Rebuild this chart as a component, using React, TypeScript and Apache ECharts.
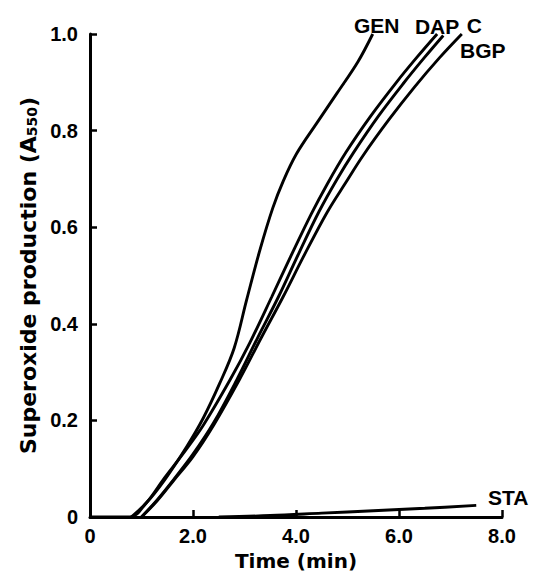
import React, { useEffect, useRef } from "react";
import * as echarts from "echarts";

const seriesNames = ["GEN", "DAP", "C", "BGP", "STA"];

const gen: [number, number][] = [
  [0, 0], [0.78, 0], [1.1, 0.03], [1.45, 0.077], [1.88, 0.146], [2.2, 0.205], [2.52, 0.277],
  [2.8, 0.35], [3.04, 0.449], [3.3, 0.553], [3.55, 0.64], [3.75, 0.695], [4.01, 0.752],
  [4.4, 0.815], [4.8, 0.878], [5.2, 0.942], [5.49, 1.0],
];
const dap: [number, number][] = [
  [0.8, 0], [1.1, 0.03], [1.42, 0.077], [1.8, 0.13], [2.2, 0.19], [2.72, 0.284], [3.1, 0.36],
  [3.53, 0.456], [3.9, 0.54], [4.3, 0.628], [4.6, 0.688], [4.97, 0.755], [5.45, 0.83],
  [5.95, 0.9], [6.35, 0.952], [6.74, 1.0],
];
const cc: [number, number][] = [
  [1.0, 0], [1.3, 0.035], [1.62, 0.077], [2.0, 0.13], [2.4, 0.195], [2.85, 0.284], [3.25, 0.37],
  [3.66, 0.456], [4.05, 0.545], [4.45, 0.633], [4.8, 0.7], [5.12, 0.755], [5.6, 0.83],
  [6.08, 0.897], [6.5, 0.952], [6.86, 0.997],
];
const bgp: [number, number][] = [
  [1.0, 0], [1.3, 0.033], [1.62, 0.075], [2.0, 0.125], [2.4, 0.19], [2.9, 0.284], [3.32, 0.37],
  [3.75, 0.456], [4.15, 0.54], [4.6, 0.63], [4.97, 0.693], [5.3, 0.748], [5.8, 0.822],
  [6.3, 0.89], [6.78, 0.95], [7.22, 1.0],
];
const sta: [number, number][] = [
  [2.5, 0], [3.5, 0.003], [4.5, 0.008], [5.5, 0.013], [6.5, 0.018], [7.5, 0.024],
];

const seriesData = [gen, dap, cc, bgp, sta];
// label offsets (px) from each series' last point
const labelOffsets: [number, number][] = [
  [4, -9], [0, -8], [31, -10], [21, 16], [32, -8],
];

const xMin = 0, xMax = 8, xStep = 2;
const yMin = 0, yMax = 1, yStep = 0.2;

const BOLD = "'Liberation Sans', Arial, sans-serif";
const WIDE = "'DejaVu Sans', sans-serif";

export default function App() {
  const ref = useRef<HTMLDivElement>(null);
  useEffect(() => {
    if (!ref.current) return;
    const chart = echarts.init(ref.current, null, { renderer: "svg" });
    const axisLine = { show: true, lineStyle: { color: "#000", width: 3 } };
    const axisTick = { show: true, inside: true, length: 7, lineStyle: { color: "#000", width: 2.5 } };
    const fmt = (v: number) => (v === 0 ? "0" : v.toFixed(1));
    chart.setOption({
      animation: false,
      backgroundColor: "#fff",
      grid: { left: 90, right: 36, top: 34, bottom: 61, containLabel: false },
      xAxis: {
        type: "value", min: xMin, max: xMax, interval: xStep,
        axisLine, axisTick, splitLine: { show: false },
        axisLabel: { formatter: fmt, color: "#000", fontFamily: BOLD, fontWeight: "bold", fontSize: 20, margin: 9 },
        name: "Time (min)", nameLocation: "middle", nameGap: 33,
        nameTextStyle: { color: "#000", fontFamily: WIDE, fontWeight: "bold", fontSize: 20 },
      },
      yAxis: {
        type: "value", min: yMin, max: yMax, interval: yStep,
        axisLine, axisTick, splitLine: { show: false },
        axisLabel: { formatter: fmt, color: "#000", fontFamily: BOLD, fontWeight: "bold", fontSize: 20, margin: 12 },
        name: "{a|Superoxide production (A}{b|550}{a|)}", nameLocation: "middle", nameGap: 47, nameRotate: 90,
        nameTextStyle: {
          color: "#000",
          rich: {
            a: { fontFamily: WIDE, fontWeight: "bold", fontSize: 22, color: "#000", lineHeight: 26, verticalAlign: "bottom" },
            b: { fontFamily: WIDE, fontWeight: "bold", fontSize: 14, color: "#000", lineHeight: 26, verticalAlign: "bottom" },
          },
        },
      },
      series: seriesData.map((d, i) => ({
        name: seriesNames[i], type: "line", data: d, showSymbol: false, symbol: "none",
        smooth: 0.35, clip: false,
        lineStyle: { color: "#000", width: 2.9 },
      })),
    });
    const graphics = seriesData.map((d, i) => {
      const last = d[d.length - 1];
      const p = chart.convertToPixel({ gridIndex: 0 }, last) as number[];
      return {
        type: "text",
        x: p[0] + labelOffsets[i][0],
        y: p[1] + labelOffsets[i][1],
        style: {
          text: seriesNames[i], fill: "#000", font: `bold 21px ${BOLD}`,
          textAlign: "center", textVerticalAlign: "middle",
        },
      };
    });
    chart.setOption({ graphic: graphics });
    return () => chart.dispose();
  }, []);
  return <div ref={ref} style={{ position: "fixed", left: 0, top: 0, width: 538, height: 578 }} />;
}
